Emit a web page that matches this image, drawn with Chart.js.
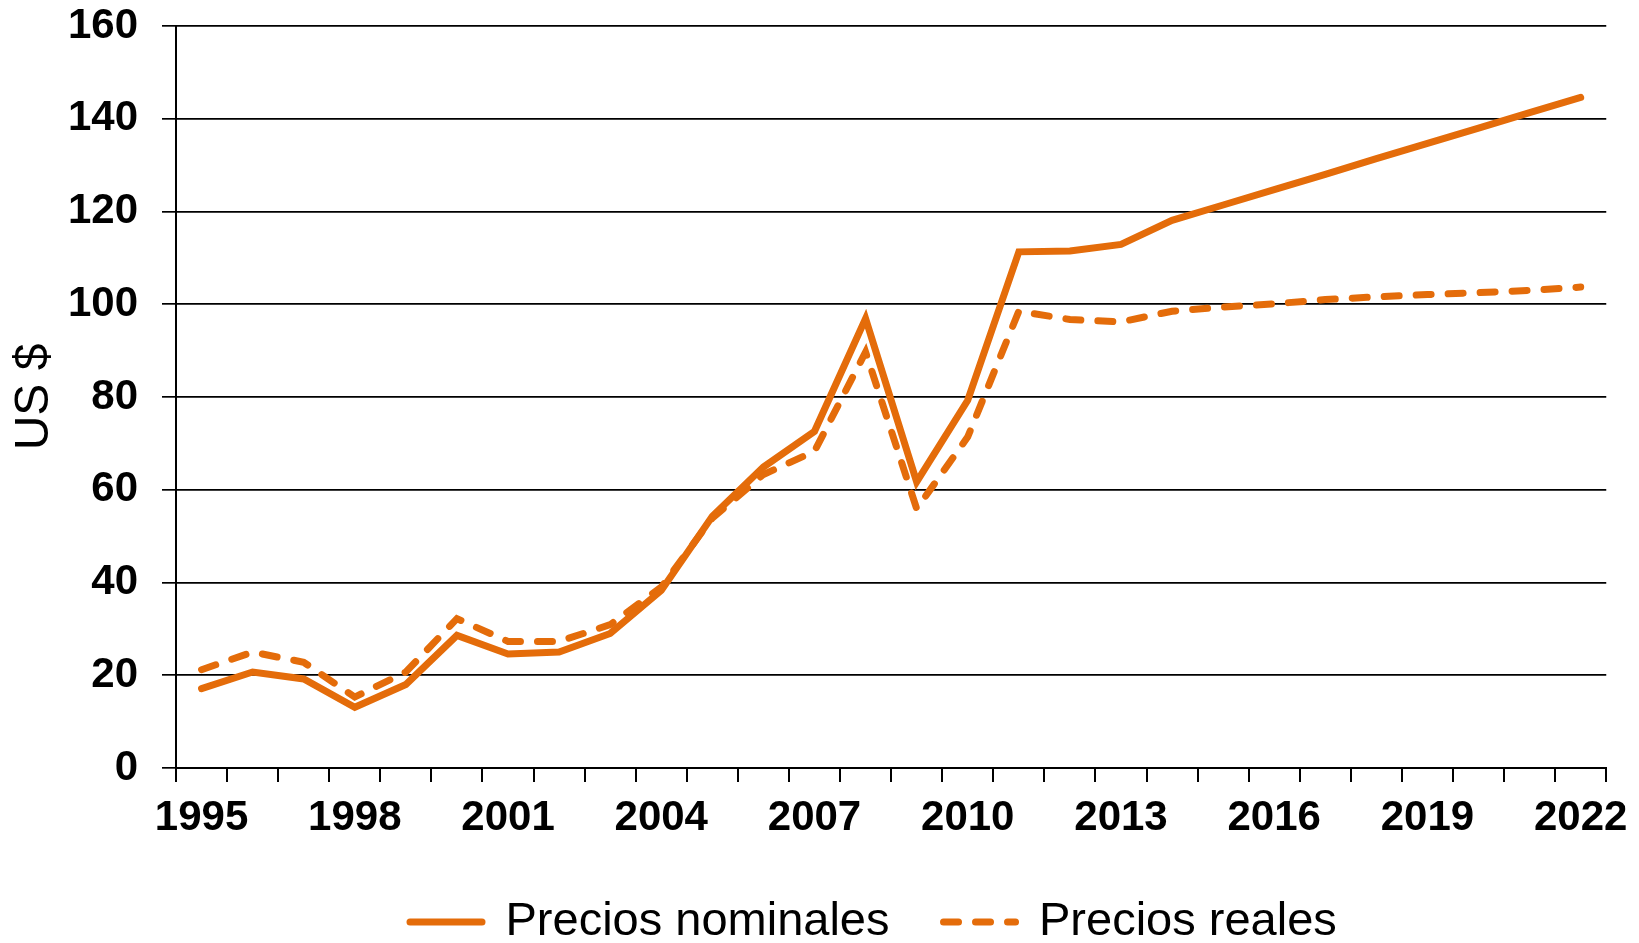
<!DOCTYPE html>
<html>
<head>
<meta charset="utf-8">
<script src="https://cdn.jsdelivr.net/npm/chart.js@4.4.1/dist/chart.umd.min.js"></script>
<style>
  body { margin: 0; background: #fff; }
  #wrap { width: 1639px; height: 943px; }
</style>
</head>
<body>
<div id="wrap"><canvas id="myChart"></canvas></div>
<script>
// Data
let years = ["1995","1996","1997","1998","1999","2000","2001","2002","2003","2004",
             "2005","2006","2007","2008","2009","2010","2011","2012","2013","2014",
             "2015","2016","2017","2018","2019","2020","2021","2022"];

let nominales = [17.1, 20.7, 19.2, 13.1, 18.0, 28.6, 24.6, 25.0, 29.0, 38.3,
                 54.3, 64.9, 72.6, 96.9, 61.7, 79.3, 111.3, 111.5, 112.9, 118.1,
                 121.4, 124.7, 128.0, 131.4, 134.7, 138.0, 141.3, 144.6];

let reales = [21.2, 25.0, 22.8, 15.3, 20.7, 32.2, 27.3, 27.3, 30.9, 39.0,
              53.9, 63.3, 68.3, 89.7, 55.9, 71.4, 98.5, 96.7, 96.2, 98.5,
              99.4, 100.1, 101.0, 101.6, 102.1, 102.5, 103.0, 103.7];

let yTicks = [0, 20, 40, 60, 80, 100, 120, 140, 160];

let orange = "#E46C0A";
let fontFamily = "'Liberation Sans', Arial, sans-serif";
let legendPad = 54;

// put the legend row where it sits in the original
let legendPlace = {
  id: "legendPlace",
  afterLayout(chart) {
    let lg = chart.legend;
    let firstX = (lg.left + legendPad + lg.right - lg.lineWidths[0]) / 2;
    let dx = 410 - firstX;
    lg.left += dx;
    lg.right += dx;
    let h = lg.height;
    lg.top = 922 - legendPad - 23.5;
    lg.bottom = lg.top + h;
  }
};

let ctx = document.getElementById("myChart").getContext("2d");

let myChart = new Chart(ctx, {
  type: "line",
  data: {
    labels: years,
    datasets: [
      {
        label: "Precios nominales",
        data: nominales,
        borderColor: orange,
        backgroundColor: orange,
        borderWidth: 7,
        pointRadius: 0,
        tension: 0,
        borderCapStyle: "round"
      },
      {
        label: "Precios reales",
        data: reales,
        borderColor: orange,
        backgroundColor: orange,
        borderWidth: 7,
        borderDash: [15, 17],
        borderCapStyle: "round",
        pointRadius: 0,
        tension: 0
      }
    ]
  },
  options: {
    responsive: true,
    maintainAspectRatio: false,
    animation: false,
    layout: { padding: { top: 26, right: 32, left: 0, bottom: 0 } },
    plugins: {
      tooltip: { enabled: false },
      legend: {
        display: true,
        position: "bottom",
        labels: {
          usePointStyle: true,
          pointStyle: "line",
          pointStyleWidth: 72,
          color: "#000",
          padding: legendPad,
          font: { family: fontFamily, size: 47 },
          generateLabels: function (chart) {
            let items = Chart.defaults.plugins.legend.labels.generateLabels(chart);
            items.forEach(function (it, i) {
              let ds = chart.data.datasets[i];
              it.lineDash = ds.borderDash || [];
              it.lineWidth = ds.borderWidth;
              it.lineCap = "round";
              it.strokeStyle = ds.borderColor;
            });
            return items;
          }
        }
      }
    },
    scales: {
      x: {
        offset: true,
        afterFit: function (scale) {
          scale.height = 64;
        },
        border: { display: true, color: "#000", width: 2 },
        grid: {
          offset: true,
          drawOnChartArea: false,
          drawTicks: true,
          tickLength: 14,
          color: "#000",
          lineWidth: 2
        },
        ticks: {
          autoSkip: false,
          maxRotation: 0,
          padding: 11,
          color: "#000",
          font: { family: fontFamily, size: 42, weight: "bold" },
          callback: function (value, index) {
            return index % 3 === 0 ? years[index] : "";
          }
        }
      },
      y: {
        min: 0,
        max: 160,
        afterBuildTicks: function (scale) {
          scale.ticks = yTicks.map(v => ({ value: v }));
        },
        afterFit: function (scale) {
          scale.width = 176;
          scale.paddingTop = 0;
          scale.paddingBottom = 0;
        },
        border: { display: true, color: "#000", width: 2 },
        grid: {
          color: "#000",
          lineWidth: 1.7,
          drawTicks: true,
          tickLength: 14
        },
        title: {
          display: true,
          text: "US $",
          color: "#000",
          padding: { top: 6, bottom: 0 },
          font: { family: fontFamily, size: 48 }
        },
        ticks: {
          padding: 24,
          color: "#000",
          font: { family: fontFamily, size: 42, weight: "bold" }
        }
      }
    }
  },
  plugins: [legendPlace]
});
</script>
</body>
</html>
